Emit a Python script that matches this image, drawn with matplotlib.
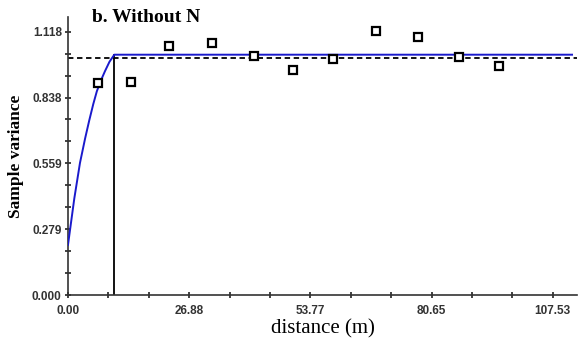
import matplotlib
matplotlib.use("Agg")
import matplotlib.pyplot as plt
from matplotlib.ticker import FixedLocator

# Sample variogram points (distance m, variance)
dist = [6.65, 13.97, 22.4, 31.9, 41.2, 49.9, 58.8, 68.3, 77.6, 86.7, 95.6]
semivar = [0.901, 0.906, 1.059, 1.071, 1.016, 0.957, 1.003, 1.122, 1.097, 1.012, 0.970]

# Fitted model curve
model_x = [0.0, 1.4, 2.66, 3.8, 4.7, 5.6, 6.4, 7.4, 8.2, 9.2, 10.27, 111.8]
model_y = [0.213, 0.410, 0.561, 0.665, 0.740, 0.810, 0.865, 0.915, 0.950, 0.990, 1.020, 1.020]

model_range = 10.27
sill = 1.020
sample_var = 1.004

xticks = [0.00, 26.88, 53.77, 80.65, 107.53]
yticks = [0.000, 0.279, 0.559, 0.838, 1.118]
xlabels = ["0.00", "26.88", "53.77", "80.65", "107.53"]
ylabels = ["0.000", "0.279", "0.559", "0.838", "1.118"]

fig = plt.figure(figsize=(5.79, 3.43), dpi=100)
ax = fig.add_axes([68 / 579, 1 - 295 / 343, (577 - 68) / 579, (295 - 17) / 343])

ax.plot(model_x, model_y, color="#1a1acc", lw=1.4, zorder=3)
ax.axhline(sample_var, color="black", lw=1.3, ls=(0, (3, 2)), zorder=2)
ax.plot([model_range, model_range], [0, sill], color="black", lw=1.3, zorder=2)
ax.plot(dist, semivar, ls="none", marker="s", ms=6, mfc="white",
        mec="black", mew=1.6, zorder=4)

ax.set_xlim(0, 112.9)
ax.set_ylim(0, 1.18)
ax.set_xticks(xticks)
ax.set_xticklabels(xlabels)
ax.set_yticks(yticks)
ax.set_yticklabels(ylabels)

# two minor ticks between each major
xm = [xticks[i] + (xticks[i + 1] - xticks[i]) * k / 3 for i in range(4) for k in (1, 2)]
ym = [yticks[i] + (yticks[i + 1] - yticks[i]) * k / 3 for i in range(4) for k in (1, 2)]
ax.xaxis.set_minor_locator(FixedLocator(xm))
ax.yaxis.set_minor_locator(FixedLocator(ym))

for s in ["top", "right"]:
    ax.spines[s].set_visible(False)
for s in ["left", "bottom"]:
    ax.spines[s].set_color("#333333")
    ax.spines[s].set_linewidth(1.2)

ax.tick_params(which="both", direction="inout", color="#222222", width=1.2)
ax.tick_params(which="major", length=5)
ax.tick_params(axis="x", which="major", pad=5)
ax.tick_params(axis="y", which="major", pad=2)
ax.tick_params(which="minor", length=4)
for lab in ax.get_xticklabels() + ax.get_yticklabels():
    lab.set_family(["Liberation Sans Narrow", "Liberation Sans", "DejaVu Sans"])
    lab.set_fontsize(8.5)
    lab.set_fontweight("bold")
    lab.set_color("#333333")

serif = ["Liberation Serif", "DejaVu Serif"]
ax.set_xlabel("distance (m)", family=serif, fontsize=15, labelpad=1)
ax.set_ylabel("Sample variance", family=serif, fontsize=12.5, fontweight="bold", labelpad=6)
fig.text(92 / 579, 1 - 18 / 343, "b. Without N", family=serif, fontsize=14,
         fontweight="bold", va="center", ha="left")

fig.savefig("out.png", dpi=100)
